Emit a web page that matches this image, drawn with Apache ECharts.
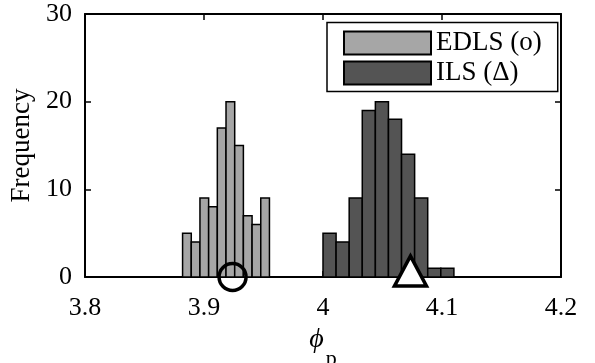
<!DOCTYPE html>
<html>
<head>
<meta charset="utf-8">
<script src="https://cdn.jsdelivr.net/npm/echarts@6/dist/echarts.min.js"></script>
<style>
  html, body { margin: 0; padding: 0; background: #fff; }
  #chart { width: 595px; height: 363px; }
</style>
</head>
<body>
<div id="chart"></div>
<script>
// histogram ranges + counts
const edlsRange = [3.882, 3.955]
const edlsCounts = [5, 4, 9, 8, 17, 20, 15, 7, 6, 9]
const ilsRange = [4.0, 4.11]
const ilsCounts = [5, 4, 9, 19, 20, 18, 14, 9, 1, 1]
// estimates marked under the axis
const edlsMark = [3.924, 0]
const ilsMark = [4.0735, 0]
const xTicks = [3.8, 3.9, 4, 4.1, 4.2]
const yTicks = [0, 10, 20, 30]

const FONT = 'Liberation Serif'

function bins(range, counts) {
    const w = (range[1] - range[0]) / counts.length
    return counts.map((c, i) => [range[0] + i * w, range[0] + (i + 1) * w, c])
}

function histItem(color) {
    return function (params, api) {
        const p0 = api.coord([api.value(0), 0])
        const p1 = api.coord([api.value(1), api.value(2)])
        return {
            type: 'rect',
            shape: { x: p0[0], y: p1[1], width: p1[0] - p0[0], height: p0[1] - p1[1] },
            style: { fill: color, stroke: '#000', lineWidth: 1.5 }
        }
    }
}

const gray = '#a6a6a6'
const dark = '#545454'

const chart = echarts.init(document.getElementById('chart'))
const axisBase = {
    type: 'value',
    axisLine: { show: true, onZero: false, lineStyle: { color: '#000', width: 2 } },
    axisTick: { show: true, inside: true, length: 6, lineStyle: { color: '#000', width: 1.5 } },
    splitLine: { show: false }
}
chart.setOption({
    animation: false,
    grid: { left: 85, right: 34, top: 14, bottom: 86, outerBoundsMode: 'none' },
    xAxis: [
        {
            ...axisBase,
            min: xTicks[0], max: xTicks[xTicks.length - 1], interval: 0.1,
            position: 'bottom',
            axisLabel: { color: '#000', fontFamily: FONT, fontSize: 26, margin: 18 },
            name: '{phi|ϕ}{sub|p}',
            nameLocation: 'middle',
            nameGap: 16,
            nameTextStyle: {
                rich: {
                    phi: { fontFamily: FONT, fontStyle: 'italic', fontSize: 28, color: '#000' },
                    sub: { fontFamily: FONT, fontSize: 22, color: '#000', padding: [39, 0, 0, 2] }
                }
            }
        },
        {
            ...axisBase,
            min: xTicks[0], max: xTicks[xTicks.length - 1], interval: 0.1,
            position: 'top',
            axisLabel: { show: false }
        }
    ],
    yAxis: [
        {
            ...axisBase,
            min: yTicks[0], max: yTicks[yTicks.length - 1], interval: 10,
            position: 'left',
            axisLabel: { color: '#000', fontFamily: FONT, fontSize: 26, margin: 13, padding: [4, 0, 0, 0] },
            name: 'Frequency',
            nameLocation: 'middle',
            nameGap: 45,
            nameTextStyle: { color: '#000', fontFamily: FONT, fontSize: 27 }
        },
        {
            ...axisBase,
            min: yTicks[0], max: yTicks[yTicks.length - 1], interval: 10,
            position: 'right',
            axisLabel: { show: false }
        }
    ],
    legend: {
        orient: 'vertical',
        left: 327,
        top: 22.5,
        padding: [7, 16, 5, 16],
        itemGap: 3,
        itemWidth: 87,
        itemHeight: 23,
        borderColor: '#000',
        borderWidth: 1.5,
        backgroundColor: '#fff',
        textStyle: { color: '#000', fontFamily: FONT, fontSize: 27 },
        data: [
            { name: 'EDLS (o)', icon: 'rect', itemStyle: { color: gray, borderColor: '#000', borderWidth: 2 } },
            { name: 'ILS (Δ)', icon: 'rect', itemStyle: { color: dark, borderColor: '#000', borderWidth: 2 } }
        ]
    },
    series: [
        {
            name: 'EDLS (o)',
            type: 'custom',
            itemStyle: { color: gray },
            renderItem: histItem(gray),
            encode: { x: [0, 1], y: 2 },
            data: bins(edlsRange, edlsCounts),
            z: 2
        },
        {
            name: 'ILS (Δ)',
            type: 'custom',
            itemStyle: { color: dark },
            renderItem: histItem(dark),
            encode: { x: [0, 1], y: 2 },
            data: bins(ilsRange, ilsCounts),
            z: 2
        },
        {
            type: 'scatter',
            symbol: 'circle',
            symbolSize: 27,
            itemStyle: { color: 'rgba(0,0,0,0)', borderColor: '#000', borderWidth: 3.5, opacity: 1 },
            data: [edlsMark],
            z: 5
        },
        {
            type: 'scatter',
            symbol: 'triangle',
            symbolSize: [32, 30],
            symbolOffset: [0, -6],
            itemStyle: { color: '#fff', borderColor: '#000', borderWidth: 3.5, opacity: 1 },
            data: [ilsMark],
            z: 5
        }
    ]
})
</script>
</body>
</html>
